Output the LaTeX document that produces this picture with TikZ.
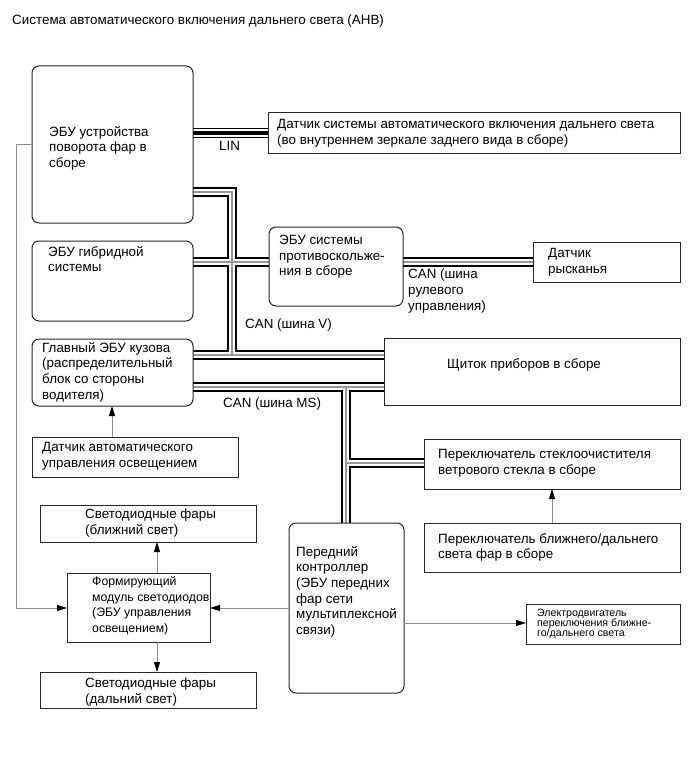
\documentclass[tikz,border=0pt]{standalone}
\usepackage{fontspec}
\setmainfont{Liberation Sans}
\usetikzlibrary{arrows.meta,fit,backgrounds}
\begin{document}
\begin{tikzpicture}[x=1pt,y=-1pt,
  bx/.style={draw=black!85, line width=1pt, inner sep=0pt, outer sep=0pt},
  rbx/.style={bx, rounded corners=7pt},
  txt/.style={anchor=north west, inner sep=0pt, align=left, font=\fontsize{13.4}{15.7}\selectfont,
    execute at begin node={\rule{0pt}{10pt}}},
  stxt/.style={anchor=north west, inner sep=0pt, align=left, font=\fontsize{10.6}{10}\selectfont,
    execute at begin node={\rule{0pt}{8pt}}},
  arr/.style={draw=black!45, line width=0.9pt, -{Triangle[length=10pt,width=6pt,color=black]}}
 ]
\useasboundingbox (0,0) rectangle (689,757);

% title
\node[txt] (title) at (12,14) {Система автоматического включения дальнего света (AHB)};

% boxes
\node[rbx, fit={(32,66) (193,223)}] (hl) {};
\node[bx,  fit={(268,113) (680,153)}] (lin) {};
\node[rbx, fit={(32,241) (193,321)}] (hy) {};
\node[rbx, fit={(269,227) (403,306)}] (as) {};
\node[bx,  fit={(533,242) (680,282)}] (yaw) {};
\node[rbx, fit={(32,339) (193,406)}] (body) {};
\node[bx,  fit={(384,338) (680,405)}] (cl) {};
\node[bx,  fit={(32,437) (238,477)}] (al) {};
\node[bx,  fit={(424,439) (680,489)}] (wp) {};
\node[bx,  fit={(424,523) (680,572)}] (dm) {};
\node[rbx, fit={(289,523) (404,693)}] (fc) {};
\node[bx,  fit={(526,604) (680,644)}] (mt) {};
\node[bx,  fit={(40,505) (256,542)}] (low) {};
\node[bx,  fit={(67,573) (210,642)}] (mod) {};
\node[bx,  fit={(40,672) (256,708)}] (high) {};

% texts
\node[txt] (hlT) at (49,126) {ЭБУ устройства\\поворота фар в\\сборе};
\node[txt] (linT) at (277,119) {Датчик системы автоматического включения дальнего света\\(во внутреннем зеркале заднего вида в сборе)};
\node[txt] (hyT) at (48,246) {ЭБУ гибридной\\системы};
\node[txt] (asT) at (279,235) {ЭБУ системы\\противоскольже-\\ния в сборе};
\node[txt] (yawT) at (548,248) {Датчик\\рысканья};
\node[txt] (bodyT) at (42,342) {Главный ЭБУ кузова\\(распределительный\\блок со стороны\\водителя)};
\node[txt] (clT) at (447,358) {Щиток приборов в сборе};
\node[txt] (alT) at (42,442) {Датчик автоматического\\управления освещением};
\node[txt] (wpT) at (438,449) {Переключатель стеклоочистителя\\ветрового стекла в сборе};
\node[txt] (dmT) at (438,533) {Переключатель ближнего/дальнего\\света фар в сборе};
\node[txt] (fcT) at (296,546) {Передний\\контроллер\\(ЭБУ передних\\фар сети\\мультиплексной\\связи)};
\node[stxt] (mtT) at (537,609) {Электродвигатель\\переключения ближне-\\го/дальнего света};
\node[txt] (lowT) at (85,509) {Светодиодные фары\\(ближний свет)};
\node[txt, font=\fontsize{12.3}{15.7}\selectfont] (modT) at (92,576) {Формирующий\\модуль светодиодов\\(ЭБУ управления\\освещением)};
\node[txt] (highT) at (85,678) {Светодиодные фары\\(дальний свет)};

% bus labels
\node[txt] (linL) at (219,140) {LIN};
\node[txt] (canR) at (408,269) {CAN (шина\\рулевого\\управления)};
\node[txt] (canV) at (245,318) {CAN (шина V)};
\node[txt] (canMS) at (223,397) {CAN (шина MS)};

% bus junction coordinates
\coordinate (jl) at (232,133);
\coordinate (j1) at (232,192);
\coordinate (j2) at (232,355);
\coordinate (j3) at (232,262);
\coordinate (j4) at (346,387);
\coordinate (j5) at (346,463);

\begin{pgfonlayer}{background}
\foreach \w/\c in {9.5pt/black, 5.8pt/white, 1.2pt/black!40} {
  \draw[line width=\w, \c, line join=miter]
    (hl.east |- j1) -- (j1) -- (j2)
    (body.east |- j2) -- (cl.west |- j2)
    (hy.east |- j3) -- (as.west |- j3)
    (as.east |- j3) -- (yaw.west |- j3)
    (body.east |- j4) -- (cl.west |- j4)
    (j4) -- (fc.north -| j4)
    (j5) -- (wp.west |- j5);
}
\foreach \w/\c in {10pt/black, 7.4pt/white, 3.3pt/black} {
  \draw[line width=\w, \c] (hl.east |- jl) -- (lin.west |- jl);
}
\end{pgfonlayer}

% signal connectors
\coordinate (c1) at (112,0);
\coordinate (c2) at (552,0);
\coordinate (c3) at (157,0);
\coordinate (c4) at (0,608);
\coordinate (c5) at (16,144);
\coordinate (c6) at (0,623);
\draw[arr] (al.north -| c1) -- (body.south -| c1);
\draw[arr] (dm.north -| c2) -- (wp.south -| c2);
\draw[arr] (mod.north -| c3) -- (low.south -| c3);
\draw[arr] (mod.south -| c3) -- (high.north -| c3);
\draw[arr] (fc.west |- c4) -- (mod.east |- c4);
\draw[arr] (hl.west |- c5) -- (c5) |- (mod.west |- c4);
\draw[arr] (fc.east |- c6) -- (mt.west |- c6);
\end{tikzpicture}
\end{document}
